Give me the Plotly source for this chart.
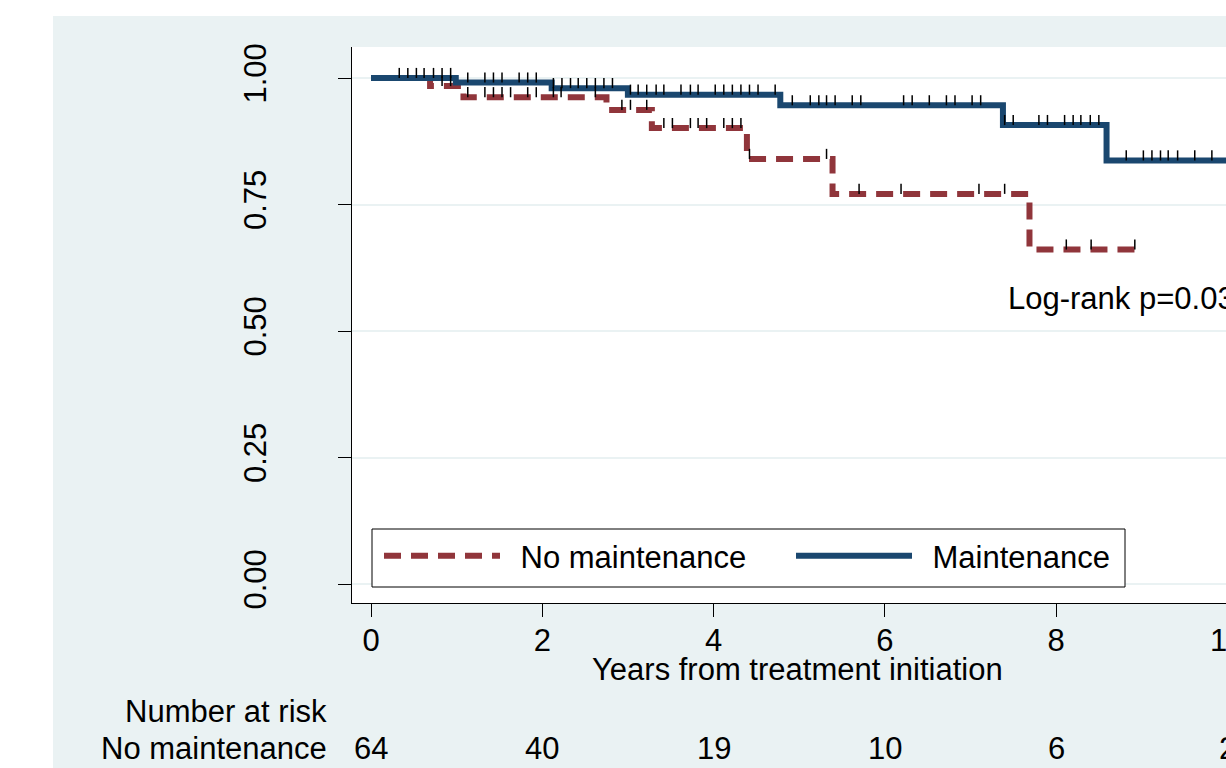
import numpy as np
import plotly.graph_objects as go

# ---------------- data ----------------
# No maintenance (red dashed)
nomaint_event_t = [0.69, 1.08, 2.75, 3.28, 4.39, 5.39, 7.69]
nomaint_surv = [0.984, 0.962, 0.937, 0.901, 0.840, 0.771, 0.661]
nomaint_end = 8.92
nomaint_censor = [0.83, 0.93, 1.13, 1.33, 1.43, 1.53, 1.63, 1.83, 1.93, 2.13, 2.22,
                  2.62, 2.93, 3.03, 3.22, 3.42, 3.52, 3.73, 3.82, 3.92, 4.12, 4.22,
                  4.32, 4.42, 5.32, 5.70, 6.19, 7.10, 7.40, 8.12, 8.41, 8.92]

# Maintenance (blue solid)
maint_event_t = [0.99, 2.11, 3.00, 4.78, 7.38, 8.59]
maint_surv = [0.991, 0.980, 0.967, 0.946, 0.907, 0.837]
maint_end = 10.6
maint_censor = [0.33, 0.43, 0.53, 0.62, 0.73, 0.83, 0.93, 1.13, 1.33, 1.43, 1.53,
                1.73, 1.83, 1.93, 2.13, 2.23, 2.33, 2.42, 2.52, 2.62, 2.72, 2.82,
                3.03, 3.12, 3.22, 3.33, 3.42, 3.62, 3.73, 3.82, 4.02, 4.12, 4.22,
                4.32, 4.42, 4.52, 4.72, 4.92, 5.13, 5.23, 5.32, 5.42, 5.62, 5.72,
                6.22, 6.32, 6.52, 6.72, 6.82, 7.02, 7.12, 7.40, 7.50, 7.80, 7.90,
                8.10, 8.20, 8.29, 8.40, 8.50, 8.82, 9.02, 9.12, 9.22, 9.31, 9.42,
                9.62, 9.82]

risk_times = [0, 2, 4, 6, 8, 10]
risk_nomaint = [64, 40, 19, 10, 6, 2]

x_ticks = [0, 2, 4, 6, 8]
y_ticks = [0, 0.25, 0.5, 0.75, 1.0]
y_ticktext = ["0.00", "0.25", "0.50", "0.75", "1.00"]

pvalue_text = "Log-rank p=0.03"

# ---------------- style ----------------
RED = "#90353B"
BLUE = "#1A476F"
BG = "#EAF2F3"
FONT = "Liberation Sans, Arial, sans-serif"
FS = 31

W, H = 1226, 768
L, R, T, B = 352, 0, 47, 165
XR = [-0.2219, 9.985]
YR = [-0.03755, 1.0613]
TICK_H = 0.02


def step_xy(event_t, surv, end):
    xs = [0.0] + list(event_t) + [end]
    ys = [1.0] + list(surv) + [surv[-1]]
    return xs, ys


def censor_xy(censor, event_t, surv):
    levels = np.array([1.0] + list(surv))
    idx = np.searchsorted(np.array(event_t), np.array(censor), side="right")
    xs, ys = [], []
    for c, i in zip(censor, idx):
        s = levels[i]
        xs += [c, c, None]
        ys += [s, s + TICK_H, None]
    return xs, ys


fig = go.Figure()

rx, ry = step_xy(nomaint_event_t, nomaint_surv, nomaint_end)
fig.add_trace(go.Scatter(x=rx, y=ry, mode="lines", line_shape="hv",
                         name="\u2002No maintenance",
                         line=dict(color=RED, width=6, dash="17px,10px")))
bx, by = step_xy(maint_event_t, maint_surv, maint_end)
fig.add_trace(go.Scatter(x=bx, y=by, mode="lines", line_shape="hv",
                         name="\u2002Maintenance",
                         line=dict(color=BLUE, width=6)))

cx, cy = censor_xy(nomaint_censor, nomaint_event_t, nomaint_surv)
fig.add_trace(go.Scatter(x=cx, y=cy, mode="lines", showlegend=False,
                         line=dict(color="black", width=1.5), hoverinfo="skip"))
cx, cy = censor_xy(maint_censor, maint_event_t, maint_surv)
fig.add_trace(go.Scatter(x=cx, y=cy, mode="lines", showlegend=False,
                         line=dict(color="black", width=1.5), hoverinfo="skip"))

pw = W - L - R
ph = H - T - B


def px_x(px):
    return (px - L) / pw


def px_y(py):
    return (H - B - py) / ph


def t_to_paper(t):
    return (t - XR[0]) / (XR[1] - XR[0])


shapes = [
    # white outer margins (top & left)
    dict(type="rect", xref="paper", yref="paper", x0=px_x(-5), x1=px_x(53),
         y0=px_y(H + 10), y1=px_y(-10), fillcolor="white", line_width=0, layer="below"),
    dict(type="rect", xref="paper", yref="paper", x0=px_x(-5), x1=px_x(W + 10),
         y0=px_y(16), y1=px_y(-10), fillcolor="white", line_width=0, layer="below"),
    # legend frame
    dict(type="rect", xref="paper", yref="paper", x0=px_x(372), x1=px_x(1125),
         y0=px_y(587), y1=px_y(529), fillcolor="white",
         line=dict(color="black", width=1), layer="above"),
]

annotations = [
    dict(text="Years from treatment initiation", xref="paper", yref="paper",
         x=px_x(797.5), y=px_y(669), xanchor="center", yanchor="middle",
         showarrow=False, font=dict(size=FS, color="black", family=FONT)),
    dict(text=pvalue_text, xref="x", yref="y", x=7.41, y=0.565,
         xanchor="left", yanchor="middle", showarrow=False,
         font=dict(size=FS, color="black", family=FONT)),
    dict(text="10", xref="paper", yref="paper", x=t_to_paper(10), y=px_y(640),
         xanchor="center", yanchor="middle", showarrow=False,
         font=dict(size=FS, color="black", family=FONT)),
    dict(text="Number at risk", xref="paper", yref="paper", x=px_x(329),
         y=px_y(712), xanchor="right", yanchor="middle", showarrow=False,
         font=dict(size=FS, color="black", family=FONT)),
    dict(text="No maintenance", xref="paper", yref="paper", x=px_x(329),
         y=px_y(748), xanchor="right", yanchor="middle", showarrow=False,
         font=dict(size=FS, color="black", family=FONT)),
]
for t, n in zip(risk_times, risk_nomaint):
    annotations.append(dict(text=str(n), xref="paper", yref="paper",
                            x=t_to_paper(t), y=px_y(748), xanchor="center",
                            yanchor="middle", showarrow=False,
                            font=dict(size=FS, color="black", family=FONT)))

fig.update_layout(
    width=W, height=H,
    margin=dict(l=L, r=R, t=T, b=B, pad=0),
    paper_bgcolor=BG, plot_bgcolor="white",
    font=dict(family=FONT, size=FS, color="black"),
    showlegend=True,
    legend=dict(orientation="h", x=px_x(379), y=px_y(529), xanchor="left",
                yanchor="top", bgcolor="rgba(0,0,0,0)", borderwidth=0,
                itemwidth=116, entrywidth=281, font=dict(size=FS, family=FONT),
                itemclick=False, itemdoubleclick=False),
    shapes=shapes,
    annotations=annotations,
    xaxis=dict(range=XR, tickvals=x_ticks, showgrid=False, zeroline=False,
               showline=True, linecolor="black", linewidth=1,
               ticks="outside", ticklen=13, tickwidth=1, tickcolor="black",
               ticklabelstandoff=-3,
               tickfont=dict(size=FS, family=FONT), fixedrange=True),
    yaxis=dict(range=YR, tickvals=y_ticks, ticktext=y_ticktext, tickangle=-90,
               showgrid=True, gridcolor=BG, gridwidth=2, zeroline=False,
               showline=True, linecolor="black", linewidth=1,
               ticks="outside", ticklen=13, tickwidth=1, tickcolor="black",
               ticklabelstandoff=60,
               tickfont=dict(size=FS, family=FONT), fixedrange=True),
)

fig.write_html("out.html", config={"displayModeBar": False},
               post_script="document.body.style.margin='0';")
